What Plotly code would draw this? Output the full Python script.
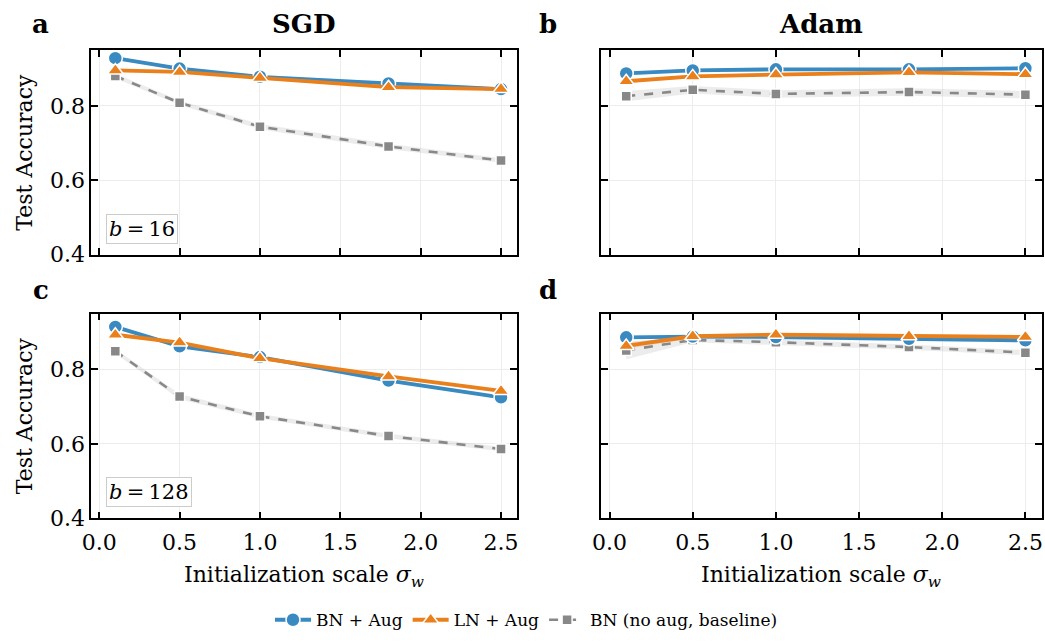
import plotly.graph_objects as go

sigma = [0.1, 0.5, 1.0, 1.8, 2.5]
x_ticks = [0.0, 0.5, 1.0, 1.5, 2.0, 2.5]
y_ticks = [0.4, 0.6, 0.8]

series_names = ["BN + Aug", "LN + Aug", "BN (no aug, baseline)"]

# SGD, b=16
sgd16_bn = [0.928, 0.900, 0.878, 0.860, 0.845]
sgd16_ln = [0.895, 0.891, 0.875, 0.850, 0.845]
sgd16_base = [0.880, 0.808, 0.744, 0.691, 0.653]
sgd16_bn_sd = [0.004, 0.004, 0.004, 0.004, 0.004]
sgd16_ln_sd = [0.004, 0.004, 0.004, 0.004, 0.004]
sgd16_base_sd = [0.006, 0.006, 0.007, 0.007, 0.006]

# Adam, b=16
adam16_bn = [0.887, 0.895, 0.898, 0.898, 0.901]
adam16_ln = [0.866, 0.879, 0.884, 0.890, 0.885]
adam16_base = [0.826, 0.843, 0.832, 0.837, 0.830]
adam16_bn_sd = [0.004, 0.004, 0.004, 0.004, 0.004]
adam16_ln_sd = [0.005, 0.004, 0.004, 0.004, 0.004]
adam16_base_sd = [0.014, 0.010, 0.010, 0.010, 0.010]

# SGD, b=128
sgd128_bn = [0.914, 0.862, 0.833, 0.770, 0.725]
sgd128_ln = [0.893, 0.872, 0.830, 0.781, 0.742]
sgd128_base = [0.849, 0.727, 0.674, 0.621, 0.586]
sgd128_bn_sd = [0.004, 0.004, 0.004, 0.004, 0.004]
sgd128_ln_sd = [0.004, 0.004, 0.004, 0.004, 0.004]
sgd128_base_sd = [0.006, 0.007, 0.006, 0.006, 0.006]

# Adam, b=128
adam128_bn = [0.886, 0.888, 0.887, 0.882, 0.878]
adam128_ln = [0.863, 0.889, 0.893, 0.889, 0.887]
adam128_base = [0.851, 0.879, 0.873, 0.860, 0.845]
adam128_bn_sd = [0.004, 0.005, 0.005, 0.005, 0.005]
adam128_ln_sd = [0.008, 0.005, 0.005, 0.005, 0.005]
adam128_base_sd = [0.024, 0.006, 0.007, 0.007, 0.007]

panels = [
    (sgd16_bn, sgd16_ln, sgd16_base, sgd16_bn_sd, sgd16_ln_sd, sgd16_base_sd),
    (adam16_bn, adam16_ln, adam16_base, adam16_bn_sd, adam16_ln_sd, adam16_base_sd),
    (sgd128_bn, sgd128_ln, sgd128_base, sgd128_bn_sd, sgd128_ln_sd, sgd128_base_sd),
    (adam128_bn, adam128_ln, adam128_base, adam128_bn_sd, adam128_ln_sd, adam128_base_sd),
]

BLUE = "#3a8ac2"
ORANGE = "#ea801c"
GRAY = "#888888"
FONT = "DejaVu Serif"

W, H = 1045, 644
xdoms = [(83 / W, 513 / W), (598 / W, 1043 / W), (83 / W, 513 / W), (598 / W, 1043 / W)]
ydoms = [(1 - 260 / H, 1 - 51 / H), (1 - 260 / H, 1 - 51 / H),
         (1 - 529 / H, 1 - 320 / H), (1 - 529 / H, 1 - 320 / H)]

fig = go.Figure()

styles = [
    dict(color=BLUE, symbol="circle", msize=14, lw=3.8, dash="solid", fill="rgba(58,138,194,0.18)"),
    dict(color=ORANGE, symbol="triangle-up", msize=14, lw=3.8, dash="solid", fill="rgba(234,128,28,0.18)"),
    dict(color=GRAY, symbol="square", msize=10, lw=2.6, dash="dash", fill="rgba(136,136,136,0.16)"),
]

for p, data in enumerate(panels):
    ax = "" if p == 0 else str(p + 1)
    xa, ya = "x" + ax, "y" + ax
    vals = data[:3]
    sds = data[3:]
    for s, (v, sd) in enumerate(zip(vals, sds)):
        st = styles[s]
        upper = [a + b for a, b in zip(v, sd)]
        lower = [a - b for a, b in zip(v, sd)]
        fig.add_trace(go.Scatter(
            x=sigma + sigma[::-1], y=upper + lower[::-1], fill="toself",
            fillcolor=st["fill"], line=dict(width=0), mode="lines",
            hoverinfo="skip", showlegend=False, xaxis=xa, yaxis=ya))
    for s in [2, 0, 1]:
        st = styles[s]
        fig.add_trace(go.Scatter(
            x=sigma, y=vals[s], mode="lines+markers", name=series_names[s],
            line=dict(color=st["color"], width=st["lw"], dash=st["dash"]),
            marker=dict(symbol=st["symbol"], size=st["msize"], color=st["color"],
                        line=dict(color="white", width=1.5)),
            showlegend=(p == 0), legendrank=s + 1, xaxis=xa, yaxis=ya))

axis_common = dict(
    showline=True, linecolor="black", linewidth=1.6, mirror="allticks",
    ticks="inside", ticklen=7, tickwidth=1.6, tickcolor="black",
    showgrid=True, gridcolor="#ededed", gridwidth=1, zeroline=False,
    tickfont=dict(family=FONT, size=22, color="black"),
)

layout = dict(
    width=W, height=H, margin=dict(l=0, r=0, t=0, b=0),
    plot_bgcolor="white", paper_bgcolor="white",
    font=dict(family=FONT, color="black"),
    showlegend=True,
    legend=dict(orientation="h", x=0.5, xanchor="center", y=1 - 633 / H, yanchor="middle",
                font=dict(family=FONT, size=17, color="black"), itemwidth=36,
                bgcolor="rgba(0,0,0,0)", traceorder="normal"),
)

for p in range(4):
    ax = "" if p == 0 else str(p + 1)
    layout["xaxis" + ax] = dict(axis_common, domain=list(xdoms[p]), range=[-0.05, 2.6],
                                tickvals=x_ticks, ticktext=[f"{t:.1f}" for t in x_ticks],
                                showticklabels=(p >= 2), anchor="y" + ax, ticklabelstandoff=3)
    layout["yaxis" + ax] = dict(axis_common, domain=list(ydoms[p]), range=[0.4, 0.95],
                                tickvals=y_ticks, ticktext=[f"{t:.1f}" for t in y_ticks],
                                showticklabels=(p % 2 == 0), anchor="x" + ax)

fig.update_layout(**layout)

ann = []
def txt(x, y, s, size, bold=False, angle=0):
    ann.append(dict(x=x / W, y=1 - y / H, xref="paper", yref="paper", text=(f"<b>{s}</b>" if bold else s),
                    showarrow=False, xanchor="center", yanchor="middle", textangle=angle,
                    font=dict(family=FONT, size=size, color="black")))

txt(32, 25, "a", 26, True)
txt(544, 25, "b", 26, True)
txt(32, 296, "c", 26, True)
txt(544, 296, "d", 26, True)
txt(298, 25, "SGD", 26, True)
txt(820, 25, "Adam", 26, True)
txt(16, 155, "Test Accuracy", 22, angle=-90)
txt(16, 424, "Test Accuracy", 22, angle=-90)
xlabel = "Initialization scale <i>σ</i><sub><i>w</i></sub>"
txt(298, 588, xlabel, 22)
txt(820, 588, xlabel, 22)

for ax, label in [("", "<i>b</i>\u2009=\u200916"), ("3", "<i>b</i>\u2009=\u2009128")]:
    ann.append(dict(x=0.035, y=0.053, xref="x" + ax + " domain", yref="y" + ax + " domain",
                    text=label, showarrow=False, xanchor="left", yanchor="bottom",
                    font=dict(family=FONT, size=21, color="black"),
                    bordercolor="#cccccc", borderwidth=1, borderpad=2, bgcolor="white"))

fig.update_layout(annotations=ann)
fig.write_html("out.html")
